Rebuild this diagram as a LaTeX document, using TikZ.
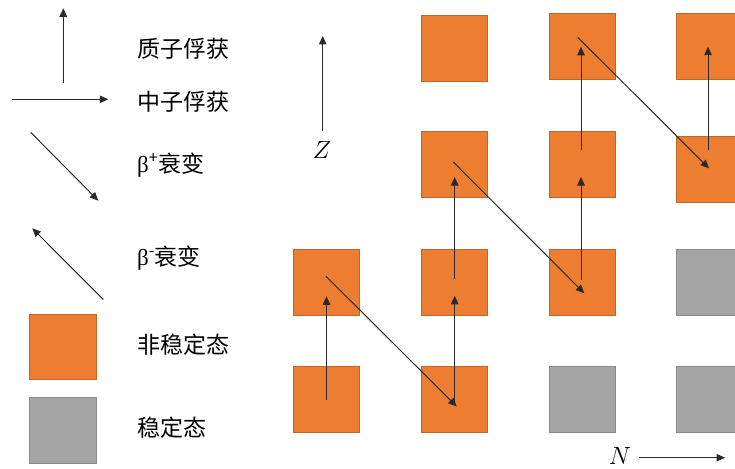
\documentclass[tikz,border=0pt]{standalone}
\usepackage{fontspec}
\newfontfamily\cjk{Noto Sans CJK SC}
\newfontfamily\grk{Liberation Serif}
\usetikzlibrary{arrows.meta,calc}
\definecolor{orfill}{HTML}{ED7D31}
\definecolor{ordraw}{HTML}{C0662A}
\definecolor{gyfill}{HTML}{A5A5A5}
\definecolor{gydraw}{HTML}{8A8A8A}
\definecolor{arr}{HTML}{2A2A2A}
\tikzset{
  unstable/.style={draw=ordraw,fill=orfill,line width=0.8pt,minimum width=66pt,minimum height=66pt,inner sep=0pt},
  stable/.style={draw=gydraw,fill=gyfill,line width=0.8pt,minimum width=66pt,minimum height=66pt,inner sep=0pt},
  conn/.style={draw=arr,line width=1pt,-{Triangle[length=8.5pt,width=7.5pt]}},
  lbl/.style={anchor=west,inner sep=0pt,font=\cjk\fontsize{23}{28}\selectfont},
  axis/.style={inner sep=0pt,font=\fontsize{24}{28}\selectfont}
}
\begin{document}
\begin{tikzpicture}[x=1pt,y=-1pt]
\useasboundingbox (0,0) rectangle (735,468);
% legend
\coordinate (pa) at (63.3,82.7);
\coordinate (pb) at (63.3,8.3);
\coordinate (na) at (11.7,99.3);
\coordinate (nb) at (108.3,99.3);
\coordinate (bpa) at (30.7,132.3);
\coordinate (bpb) at (98.3,200.7);
\coordinate (bma) at (103.3,299.5);
\coordinate (bmb) at (32.3,228.3);
\draw[conn] (pa) -- (pb);
\draw[conn] (na) -- (nb);
\draw[conn] (bpa) -- (bpb);
\draw[conn] (bma) -- (bmb);
\node[lbl] (l1) at (137,48.3) {质子俘获};
\node[lbl] (l2) at (137,101.7) {中子俘获};
\node[lbl] (l3) at (137,165) {{\grk β}\textsuperscript{+}衰变};
\node[lbl] (l4) at (137,258.3) {{\grk β}\textsuperscript{-}衰变};
\node[unstable,minimum width=66.7pt,minimum height=65.3pt] (lu) at (62.7,346.7) {};
\node[stable,minimum width=66.7pt,minimum height=66pt] (ls) at (62.7,430.7) {};
\node[lbl] (l5) at (137,345) {非稳定态};
\node[lbl] (l6) at (137,427.3) {稳定态};
% axes
\node[axis] (zl) at (322,150) {$Z$};
\coordinate (za) at (322.7,131);
\coordinate (zb) at (322.7,36);
\draw[conn] (za) -- (zb);
\node[axis] (nl) at (620,456) {$N$};
\coordinate (nxa) at (639,457.7);
\coordinate (nxb) at (725,457.7);
\draw[conn] (nxa) -- (nxb);
% grid
\node[unstable] (s11) at (326.5,399.5) {};
\node[unstable] (s12) at (326.5,282.3) {};
\node[unstable] (s21) at (454.7,399.5) {};
\node[unstable] (s22) at (454.7,282.3) {};
\node[unstable] (s23) at (454.7,164.5) {};
\node[unstable] (s24) at (454.7,48.8) {};
\node[stable]   (s31) at (582,399.5) {};
\node[unstable] (s32) at (582,282.3) {};
\node[unstable] (s33) at (582,164.5) {};
\node[unstable] (s34) at (582,46.8) {};
\node[stable]   (s41) at (709,399.5) {};
\node[stable]   (s42) at (709,282.3) {};
\node[unstable] (s43) at (709,169.5) {};
\node[unstable] (s44) at (709,46.3) {};
% paths
\draw[conn] (s11.center) -- ($(s12.center)+(0,14)$);
\draw[conn] ($(s12.center)+(-0.5,-6)$) -- ($(s21.center)+(2,7)$);
\draw[conn] ($(s21.center)+(0,5.5)$) -- ($(s22.center)+(0,13.5)$);
\draw[conn] ($(s22.center)+(0,-3)$) -- ($(s23.center)+(0,12.5)$);
\draw[conn] ($(s23.center)+(-1.4,-2.5)$) -- ($(s32.center)+(2.3,11)$);
\draw[conn] ($(s32.center)+(-1,-2.3)$) -- ($(s33.center)+(-1,12.5)$);
\draw[conn] ($(s33.center)+(-1,-14.5)$) -- ($(s34.center)+(-1,0)$);
\draw[conn] ($(s34.center)+(-4.3,-9.5)$) -- ($(s43.center)+(0,-1.2)$);
\draw[conn] ($(s43.center)+(-1,-19.5)$) -- ($(s44.center)+(-1,0.4)$);
\end{tikzpicture}
\end{document}
